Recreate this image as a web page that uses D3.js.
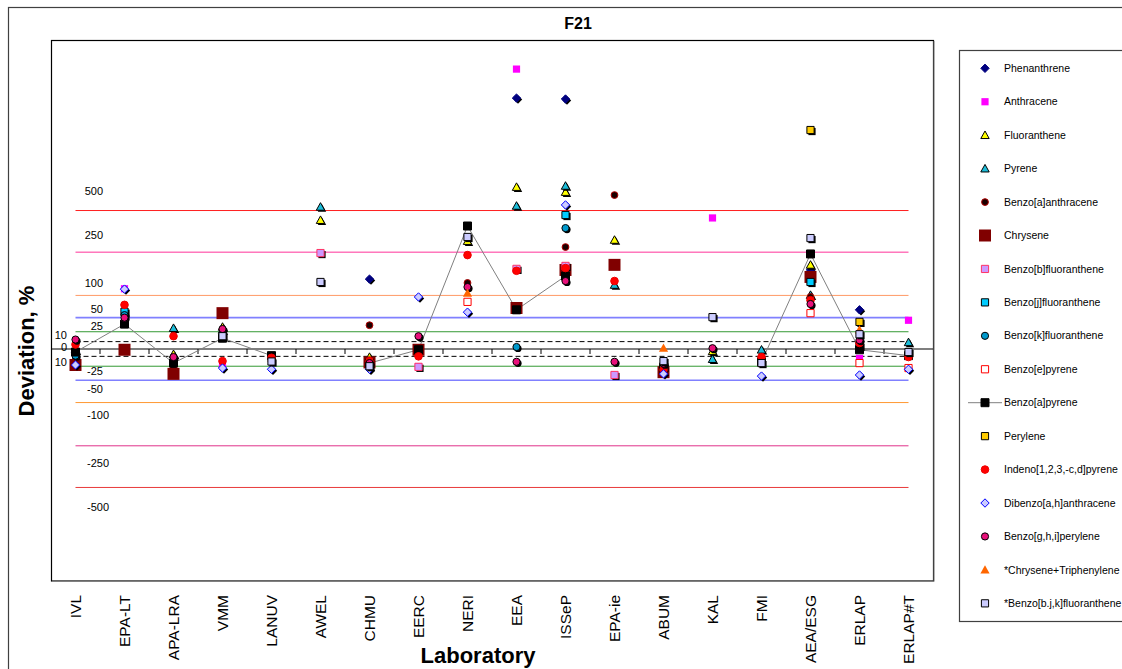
<!DOCTYPE html>
<html>
<head>
<meta charset="utf-8">
<script src="https://cdn.jsdelivr.net/npm/d3@7"></script>
<style>
  body { margin: 0; background: #fff; }
  svg { display: block; }
  text { font-family: Arial, "Liberation Sans", Helvetica, sans-serif; fill: #000; }
</style>
</head>
<body>
<svg id="chart" width="1122" height="669"></svg>
<script>
// Laboratories on the x axis
const labs = ["IVL", "EPA-LT", "APA-LRA", "VMM", "LANUV", "AWEL", "CHMU", "EERC", "NERI",
  "EEA", "ISSeP", "EPA-ie", "ABUM", "KAL", "FMI", "AEA/ESG", "ERLAP", "ERLAP#T"];

// Reference deviation levels (%) and their labels
const levels = [500, 250, 100, 50, 25, 10, 0, -10, -25, -50, -100, -250, -500];
const levelLabels = ["500", "250", "100", "50", "25", "10", "0", "10", "-25", "-50", "-100", "-250", "-500"];

// Deviation (%) per laboratory, one array per compound (null = not reported)
const phenanthrene      = [-5, null, null, null, null, null, 147, null, null, 2470, 2440, null, null, null, null, 178, 66, null];
const anthracene        = [-25, 118, null, -23, null, null, null, -26, null, 3640, null, null, null, 445, null, null, -13, 45];
const fluoranthene      = [null, null, -7, 33, null, 430, -11, null, 304, 713, 662, 310, -26, -3, null, 197, null, null];
const pyrene            = [-12, null, 31, 28, null, 529, null, null, null, 537, 725, 129, null, -14, -1, 101, null, 9];
const benzoAAnthracene  = [-2, null, -28, null, -17, null, 36, null, 135, null, 274, 633, null, null, null, 96, null, null];
const chrysene          = [-23, -1, -38, 59, null, null, -19, -1, null, 70, 178, 197, -35, null, null, 154, null, null];
const benzoBFluoranth   = [null, null, null, null, null, 246, null, -26, null, 182, 193, -40, null, null, null, null, null, null];
const benzoJFluoranth   = [null, 62, null, null, null, null, null, null, null, null, 466, null, null, null, null, 138, 4, null];
const benzoKFluoranth   = [-9, 55, null, null, null, null, null, null, null, 2.6, 378, null, null, null, null, null, null, null];
const benzoEPyrene      = [null, null, null, null, null, null, null, null, 84, null, null, null, null, null, null, 59, -20, -28];
const benzoAPyrene      = [-4, 38, -20, 15, -9, null, -20, -1, 391, 66, 157, null, -28, null, -18, 242, -1, -9];
const perylene          = [null, null, null, null, null, null, null, null, null, null, null, null, -26, null, null, 1600, 42, null];
const indenoPyrene      = [6, 77, 18, -17, -12, null, -17, -10, 237, 175, 185, 141, -31, null, -11, 88, 8, -11];
const dibenzoAnthracene = [-23, 117, null, -28, -30, null, -30, 96, 61, null, 545, null, -38, null, -42, null, -40, -30];
const benzoGhiPerylene  = [13, 50, -11, 29.5, null, null, -20, 18, 123, -18, 141, -18, -21, 1, null, 79, 12, null];
const chryseneTriph     = [null, null, null, null, null, null, null, null, 106, null, null, null, 1.3, null, null, null, 28, null];
const benzoBJKFluoranth = [null, null, null, 18, -17.6, 138, -25, null, 326, null, null, null, -17, 51, -20, 320, 21, -4];

// Marker styling for each compound (legend order)
const series = [
  { name: "Phenanthrene", values: phenanthrene, shape: "diamond", r: 4.2, fill: "#000080", stroke: "#000080", shadow: true },
  { name: "Anthracene", values: anthracene, shape: "square", r: 3.6, fill: "#ff00ff", stroke: "none", shadow: false },
  { name: "Fluoranthene", values: fluoranthene, shape: "triangle", r: 4.2, fill: "#ffff00", stroke: "#000", shadow: true },
  { name: "Pyrene", values: pyrene, shape: "triangle", r: 4.2, fill: "#1cbcd8", stroke: "#000", shadow: true },
  { name: "Benzo[a]anthracene", values: benzoAAnthracene, shape: "circle", r: 3.4, fill: "#1a0000", stroke: "#b00000", shadow: false },
  { name: "Chrysene", values: chrysene, shape: "square", r: 6, fill: "#800000", stroke: "none", shadow: false },
  { name: "Benzo[b]fluoranthene", values: benzoBFluoranth, shape: "square", r: 3.6, fill: "#cc99ff", stroke: "#ff3366", shadow: true },
  { name: "Benzo[j]fluoranthene", values: benzoJFluoranth, shape: "square", r: 3.6, fill: "#00ccff", stroke: "#000", shadow: true },
  { name: "Benzo[k]fluoranthene", values: benzoKFluoranth, shape: "circle", r: 3.6, fill: "#0099cc", stroke: "#000", shadow: true },
  { name: "Benzo[e]pyrene", values: benzoEPyrene, shape: "square", r: 3.6, fill: "#ffffff", stroke: "#ff0000", shadow: false },
  { name: "Benzo[a]pyrene", values: benzoAPyrene, shape: "square", r: 4, fill: "#000000", stroke: "#000", shadow: false, line: "#808080" },
  { name: "Perylene", values: perylene, shape: "square", r: 3.6, fill: "#ffcc00", stroke: "#000", shadow: true },
  { name: "Indeno[1,2,3,-c,d]pyrene", values: indenoPyrene, shape: "circle", r: 3.8, fill: "#ff0000", stroke: "#ee0000", shadow: false },
  { name: "Dibenzo[a,h]anthracene", values: dibenzoAnthracene, shape: "diamond", r: 4.2, fill: "#ccccff", stroke: "#0000ff", shadow: true },
  { name: "Benzo[g,h,i]perylene", values: benzoGhiPerylene, shape: "circle", r: 3.6, fill: "#e8107a", stroke: "#000", shadow: true },
  { name: "*Chrysene+Triphenylene", values: chryseneTriph, shape: "triangle", r: 4.6, fill: "#ff6600", stroke: "none", shadow: false },
  { name: "*Benzo[b.j,k]fluoranthene", values: benzoBJKFluoranth, shape: "square", r: 3.6, fill: "#ccccff", stroke: "#000", shadow: true }
];

// Colour and dash style of each reference level line
const levelStyle = {
  "500": { c: "#ff2020", w: 1 }, "250": { c: "#ff3399", w: 1 }, "100": { c: "#ff9966", w: 1 },
  "50": { c: "#8080ff", w: 1.6 }, "25": { c: "#339933", w: 1 }, "10": { c: "#000", w: 1, dash: "5,3" },
  "-10": { c: "#000", w: 1, dash: "5,3" }, "-25": { c: "#339933", w: 1 }, "-50": { c: "#8080ff", w: 1.6 },
  "-100": { c: "#ff9933", w: 1 }, "-250": { c: "#e0338a", w: 1 }, "-500": { c: "#e83a3a", w: 1 }
};

const svg = d3.select("#chart");
const plot = { left: 51, top: 40, right: 933, bottom: 580.5 };

// Outer chart frame
svg.append("rect").attr("x", 8.5).attr("y", 7.5).attr("width", 1130).attr("height", 680)
  .attr("fill", "none").attr("stroke", "#404040").attr("stroke-width", 1.2);

// Deviation axis: symmetric log with a 100 % constant
const y = d3.scaleSymlog().constant(100).domain([-1900, 5350]).range([plot.bottom, plot.top]);
const x = d3.scaleBand().domain(labs).range([plot.left, plot.right]);
const cx = d => x(d) + x.bandwidth() / 2;

// Plot area frame
svg.append("rect").attr("x", plot.left + 0.5).attr("y", plot.top + 0.5)
  .attr("width", plot.right - plot.left).attr("height", plot.bottom - plot.top)
  .attr("fill", "#fff").attr("stroke", "#000").attr("stroke-width", 1.2);
svg.append("path")
  .attr("d", `M${plot.right + 1},${plot.top + 1}V${plot.bottom + 1}H${plot.left + 1}`)
  .attr("fill", "none").attr("stroke", "#808080").attr("stroke-width", 1);

// Title
svg.append("text").attr("x", 578).attr("y", 29).attr("text-anchor", "middle")
  .style("font-size", "16px").style("font-weight", "bold").text("F21");

// Reference level lines, drawn across the laboratory positions
const x0 = cx(labs[0]), x1 = cx(labs[labs.length - 1]);
levels.filter(v => v !== 0).forEach(v => {
  const s = levelStyle[String(v)];
  svg.append("line").attr("x1", x0).attr("x2", x1).attr("y1", y(v)).attr("y2", y(v))
    .attr("stroke", s.c).attr("stroke-width", s.w).attr("stroke-dasharray", s.dash || null);
});

// Level labels, set a little further out than their lines
levels.forEach((v, i) => {
  const small = Math.abs(v) <= 10;
  const t = svg.append("text")
    .attr("y", y(v * (small ? 1.9 : 1.35)) - (v === 0 ? 2 : 0))
    .attr("dy", "0.35em").style("font-size", "11px").text(levelLabels[i]);
  if (small) t.attr("x", plot.left + 16).attr("text-anchor", "end");
  else if (v > 0) t.attr("x", plot.left + 52).attr("text-anchor", "end");
  else t.attr("x", plot.left + 36).attr("text-anchor", "start");
});

// Zero axis with ticks between laboratories
svg.append("line").attr("x1", plot.left).attr("x2", plot.right).attr("y1", y(0)).attr("y2", y(0))
  .attr("stroke", "#000").attr("stroke-width", 1.2);
svg.append("g").selectAll("line").data(labs.slice(1)).join("line")
  .attr("x1", d => x(d)).attr("x2", d => x(d)).attr("y1", y(0)).attr("y2", y(0) + 5)
  .attr("stroke", "#000").attr("stroke-width", 1);

// Laboratory labels below the plot
svg.append("g").selectAll("text").data(labs).join("text")
  .attr("transform", d => `translate(${cx(d)},595) rotate(-90)`)
  .attr("text-anchor", "end").attr("dy", "0.36em")
  .style("font-size", "15.5px").text(d => d);

// Axis titles
svg.append("text").attr("x", 478).attr("y", 663).attr("text-anchor", "middle")
  .style("font-size", "22px").style("font-weight", "bold").text("Laboratory");
svg.append("text").attr("transform", "translate(34,351) rotate(-90)").attr("text-anchor", "middle")
  .style("font-size", "22px").style("font-weight", "bold").text("Deviation, %");

// Marker path generator
function markerPath(shape, r) {
  if (shape === "circle") return d3.symbol(d3.symbolCircle, Math.PI * r * r)();
  if (shape === "square") return d3.symbol(d3.symbolSquare, 4 * r * r)();
  if (shape === "diamond") return `M0,${-r}L${r},0L0,${r}L${-r},0Z`;
  // triangle with flat base
  return `M0,${-r}L${r},${r * 0.8}L${-r},${r * 0.8}Z`;
}

// Benzo[a]pyrene connecting line
const bap = series.find(s => s.line);
svg.append("path")
  .datum(bap.values.map((v, i) => ({ lab: labs[i], v })))
  .attr("fill", "none").attr("stroke", bap.line).attr("stroke-width", 1)
  .attr("d", d3.line().defined(d => d.v !== null).x(d => cx(d.lab)).y(d => y(d.v)));

// Markers
const marks = svg.append("g");
series.forEach(s => {
  const pts = s.values.map((v, i) => ({ lab: labs[i], v })).filter(d => d.v !== null);
  const path = markerPath(s.shape, s.r);
  if (s.shadow) {
    marks.append("g").selectAll("path").data(pts).join("path")
      .attr("transform", d => `translate(${cx(d.lab) + 1.5},${y(d.v) + 1.5})`)
      .attr("d", path).attr("fill", "#000");
  }
  marks.append("g").selectAll("path").data(pts).join("path")
    .attr("transform", d => `translate(${cx(d.lab)},${y(d.v)})`)
    .attr("d", path).attr("fill", s.fill).attr("stroke", s.stroke).attr("stroke-width", 1);
});

// Legend
const lg = { x: 959, y: 50, w: 200, h: 571, row0: 68.3, step: 33.44, mx: 985, tx: 1004 };
svg.append("rect").attr("x", lg.x + 0.5).attr("y", lg.y + 0.5).attr("width", lg.w).attr("height", lg.h)
  .attr("fill", "#fff").attr("stroke", "#404040").attr("stroke-width", 1.2);
series.forEach((s, i) => {
  const yy = lg.row0 + i * lg.step;
  if (s.line) {
    svg.append("line").attr("x1", lg.mx - 17).attr("x2", lg.mx + 17).attr("y1", yy).attr("y2", yy)
      .attr("stroke", s.line).attr("stroke-width", 1);
  }
  svg.append("path").attr("transform", `translate(${lg.mx},${yy})`)
    .attr("d", markerPath(s.shape, s.r)).attr("fill", s.fill).attr("stroke", s.stroke).attr("stroke-width", 1);
  svg.append("text").attr("x", lg.tx).attr("y", yy).attr("dy", "0.35em")
    .style("font-size", "10.5px").text(s.name);
});
</script>
</body>
</html>
